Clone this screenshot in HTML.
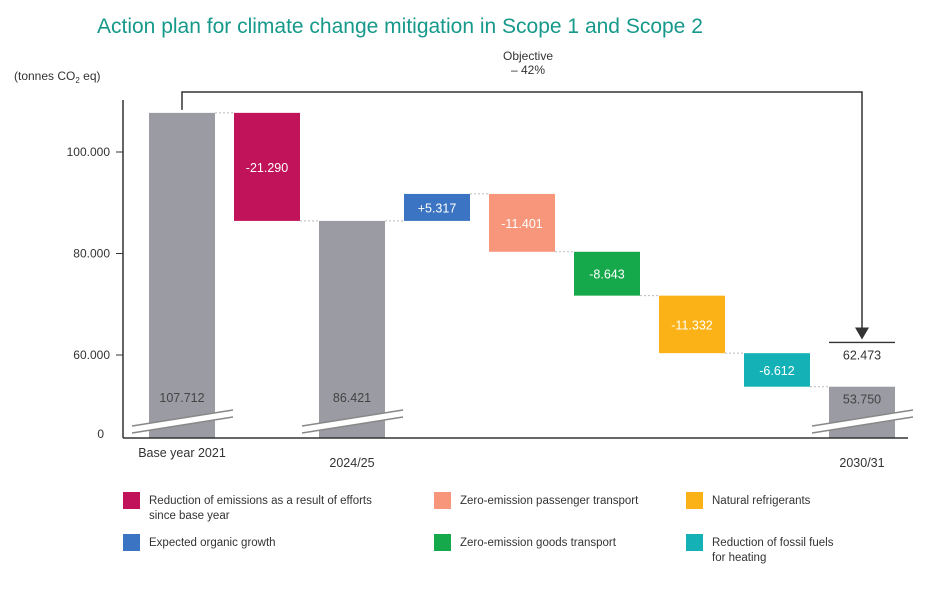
<!DOCTYPE html>
<html><head><meta charset="utf-8"><style>
body{margin:0;background:#fff;font-family:"Liberation Sans",sans-serif}
svg text{font-family:"Liberation Sans",sans-serif}
</style></head><body>
<svg width="941" height="584" viewBox="0 0 941 584">
<text x="97" y="33" font-size="21" fill="#16998b">Action plan for climate change mitigation in Scope 1 and Scope 2</text>
<text x="14" y="80" font-size="12" fill="#333">(tonnes CO<tspan font-size="8" dy="3">2</tspan><tspan dy="-3"> eq)</tspan></text>
<text x="528" y="60" font-size="12" fill="#333" text-anchor="middle">Objective</text>
<text x="528" y="74" font-size="12" fill="#333" text-anchor="middle">– 42%</text>
<g id="plot"></g>
<g id="legend"></g>
</svg>
<script>
const categories=["Base year 2021","-21.290","2024/25","+5.317","-11.401","-8.643","-11.332","-6.612","2030/31"];
const deltas=[107712,-21290,86421,5317,-11401,-8643,-11332,-6612,53750];
const kinds=["total","delta","total","delta","delta","delta","delta","delta","total"];
const colors=["#9a9ba3","#c0135a","#9a9ba3","#3b74c2","#f7967b","#16a94b","#fbb217","#14b1b6","#9a9ba3"];
const labels=["107.712","-21.290","86.421","+5.317","-11.401","-8.643","-11.332","-6.612","53.750"];
const yTicks=[100000,80000,60000];
const yTickLabels=["100.000","80.000","60.000"];
const target=62473, targetLabel="62.473";
const legendNames=["Reduction of emissions as a result of efforts|since base year","Zero-emission passenger transport","Natural refrigerants","Expected organic growth","Zero-emission goods transport","Reduction of fossil fuels|for heating"];
const legendColors=["#c0135a","#f7967b","#fbb217","#3b74c2","#16a94b","#14b1b6"];

const NS="http://www.w3.org/2000/svg";
function mk(t,a,p){const e=document.createElementNS(NS,t);for(const k in a)e.setAttribute(k,a[k]);p.appendChild(e);return e;}
const y=v=>355-(v-60000)*101.5/20000;
const x=i=>149+i*85;
const BW=66, BASE=438;
const plot=document.getElementById('plot');
// axes
let ax=mk('line',{x1:123,y1:100,x2:123,y2:BASE,stroke:"#333","stroke-width":1.5},plot);

yTicks.forEach((t,i)=>{const tl=mk('text',{x:110,y:y(t)+4,"font-size":12,fill:"#333","text-anchor":"end"},plot);tl.textContent=yTickLabels[i];

const tk=mk('line',{x1:116,y1:y(t),x2:123,y2:y(t),stroke:"#333"},plot);});
const z=mk('text',{x:104,y:BASE,"font-size":12,fill:"#333","text-anchor":"end"},plot);z.textContent="0";

let run=0,prevEnd=null;
deltas.forEach((d,i)=>{
 let top,bot,end;
 if(kinds[i]==="total"){top=y(d);bot=BASE;end=d;}
 else{const s=run,e=run+d;top=y(Math.max(s,e));bot=y(Math.min(s,e));end=e;}
 const r=mk('rect',{x:x(i),y:top,width:BW,height:bot-top,fill:colors[i]},plot);
 
 if(i>0){const c=mk('line',{x1:x(i-1)+BW,x2:x(i),y1:y(run),y2:y(run),stroke:"#bbb","stroke-dasharray":"2,2"},plot);}
 run=end;
 const tl=mk('text',{x:x(i)+BW/2,y:kinds[i]==="total"?(i==8?y(d)+17:402):(top+bot)/2+5,"font-size":12.5,fill:kinds[i]==="total"?"#444":"#fff","text-anchor":"middle"},plot);
 tl.textContent=labels[i];
 if(kinds[i]==="total"){
  const g=mk('g',{},plot);
  mk('polygon',{points:`${x(i)-17},426 ${x(i)+84},410 ${x(i)+84},417 ${x(i)-17},433`,fill:"#fff"},g);
  mk('line',{x1:x(i)-17,y1:426,x2:x(i)+84,y2:410,stroke:"#888","stroke-width":1.5},g);
  mk('line',{x1:x(i)-17,y1:433,x2:x(i)+84,y2:417,stroke:"#888","stroke-width":1.5},g);
  const cl=mk('text',{x:x(i)+BW/2,y:i==0?457:467,"font-size":12.5,fill:"#333","text-anchor":"middle"},plot);
  cl.textContent=categories[i];
 }
});
const xa=mk('line',{x1:123,y1:BASE,x2:908,y2:BASE,stroke:"#333","stroke-width":1.5},plot);

// target
const tx=x(8);
const tline=mk('line',{x1:tx,x2:tx+BW,y1:y(target),y2:y(target),stroke:"#333","stroke-width":1.3},plot);

const tt=mk('text',{x:tx+BW/2,y:y(target)+17,"font-size":12.5,fill:"#333","text-anchor":"middle"},plot);tt.textContent=targetLabel;

const ar=mk('polyline',{points:`${x(0)+BW/2},${y(deltas[0])-3} ${x(0)+BW/2},92 ${tx+BW/2},92 ${tx+BW/2},${y(target)-14}`,fill:"none",stroke:"#333","stroke-width":1.5},plot);

mk('polygon',{points:`${tx+BW/2-7},${y(target)-15} ${tx+BW/2+7},${y(target)-15} ${tx+BW/2},${y(target)-3}`,fill:"#333"},plot);
// legend
const lg=document.getElementById('legend');
legendNames.forEach((n,i)=>{
 const lx=[123,434,686][i%3], ly=i<3?492:534;
 const g=mk('g',{},lg);
 mk('rect',{x:lx,y:ly,width:17,height:17,fill:legendColors[i]},g);
 n.split('|').forEach((s,j)=>{const t=mk('text',{x:lx+26,y:ly+12+j*15,"font-size":11.5,fill:"#333"},g);t.textContent=s;});
});
</script>
</body></html>
